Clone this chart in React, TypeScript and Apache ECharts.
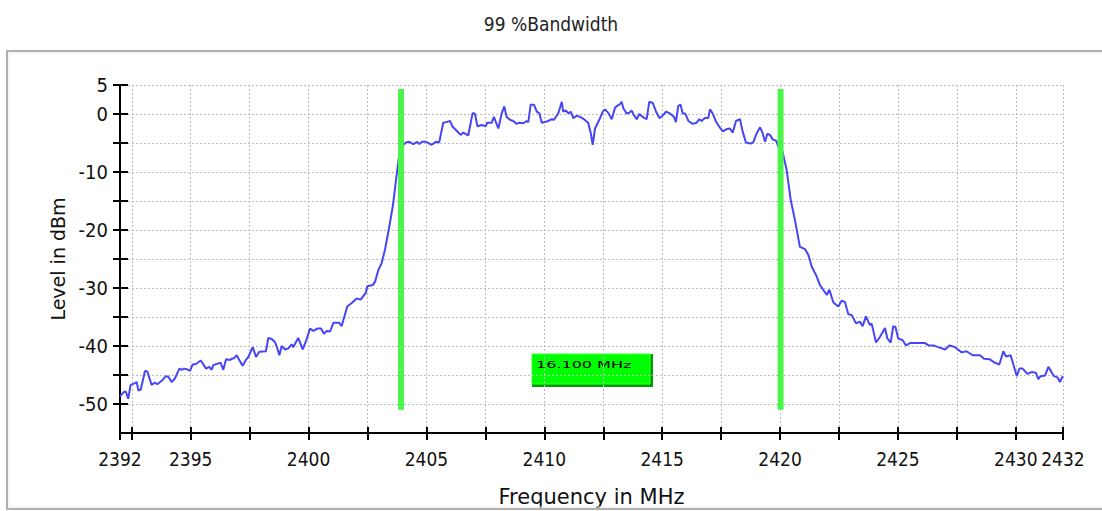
import React, { useEffect, useRef } from "react";
import * as echarts from "echarts";

const titleText = "99 %Bandwidth";
const xName = "Frequency in MHz";
const yName = "Level in dBm";
const bandwidthLabel = "16.100 MHz";

const xMin = 2392;
const xMax = 2432;
const yMin = -55;
const yMax = 5;
const xTicks = [2392, 2392.5, 2395, 2397.5, 2400, 2402.5, 2405, 2407.5, 2410, 2412.5, 2415, 2417.5, 2420, 2422.5, 2425, 2427.5, 2430, 2432];
const xLabels = [2392, 2395, 2400, 2405, 2410, 2415, 2420, 2425, 2430];
const xEndLabels = [2432];
const yTicks = [-50, -45, -40, -35, -30, -25, -20, -15, -10, -5, 0, 5];
const yLabels = [-50, -40, -30, -20, -10, 0, 5];

const markerFreq = [2403.92, 2420.02];
const markerTop = 4.3;
const markerBottom = -51;

const freq = [
  2392.0, 2392.17, 2392.25, 2392.35, 2392.45, 2392.64, 2392.71, 2392.78, 2392.88, 2393.06,
  2393.16, 2393.34, 2393.48, 2393.58, 2393.77, 2393.95, 2394.05, 2394.19, 2394.33, 2394.52,
  2394.62, 2394.71, 2394.83, 2394.97, 2395.08, 2395.22, 2395.42, 2395.51, 2395.65, 2395.79,
  2395.89, 2395.96, 2396.17, 2396.27, 2396.38, 2396.5, 2396.67, 2396.74, 2396.84, 2396.95,
  2397.06, 2397.2, 2397.34, 2397.44, 2397.63, 2397.77, 2397.91, 2398.19, 2398.29, 2398.43,
  2398.57, 2398.65, 2398.76, 2398.86, 2399.0, 2399.14, 2399.28, 2399.35, 2399.56, 2399.75,
  2399.92, 2400.06, 2400.2, 2400.37, 2400.53, 2400.65, 2400.77, 2400.91, 2401.05, 2401.3,
  2401.4, 2401.64, 2401.83, 2402.04, 2402.21, 2402.43, 2402.49, 2402.72, 2402.82, 2402.96,
  2403.1, 2403.24, 2403.41, 2403.58, 2403.71, 2403.83, 2404.02, 2404.13, 2404.27, 2404.44,
  2404.61, 2404.7, 2404.8, 2404.98, 2405.22, 2405.4, 2405.54, 2405.71, 2405.83, 2406.0,
  2406.11, 2406.28, 2406.45, 2406.56, 2406.77, 2406.96, 2407.06, 2407.16, 2407.34, 2407.52,
  2407.58, 2407.77, 2407.86, 2408.05, 2408.19, 2408.3, 2408.4, 2408.54, 2408.68, 2408.83,
  2408.94, 2409.11, 2409.25, 2409.32, 2409.42, 2409.56, 2409.68, 2409.79, 2409.89, 2410.1,
  2410.31, 2410.41, 2410.59, 2410.74, 2410.8, 2410.92, 2411.02, 2411.12, 2411.23, 2411.37,
  2411.51, 2411.68, 2411.86, 2411.97, 2412.05, 2412.15, 2412.33, 2412.48, 2412.57, 2412.71,
  2412.86, 2413.0, 2413.09, 2413.18, 2413.28, 2413.35, 2413.49, 2413.6, 2413.7, 2413.8,
  2413.92, 2414.03, 2414.2, 2414.34, 2414.45, 2414.6, 2414.74, 2414.88, 2415.02, 2415.16,
  2415.33, 2415.5, 2415.58, 2415.68, 2415.78, 2415.87, 2415.97, 2416.11, 2416.29, 2416.46,
  2416.57, 2416.67, 2416.81, 2416.95, 2417.03, 2417.14, 2417.28, 2417.42, 2417.57, 2417.73,
  2417.87, 2417.99, 2418.13, 2418.3, 2418.41, 2418.55, 2418.75, 2418.86, 2419.01, 2419.15,
  2419.26, 2419.36, 2419.46, 2419.57, 2419.69, 2419.83, 2419.92, 2420.07, 2420.28, 2420.45,
  2420.63, 2420.84, 2421.06, 2421.2, 2421.34, 2421.55, 2421.69, 2421.83, 2421.98, 2422.09,
  2422.26, 2422.47, 2422.61, 2422.75, 2422.89, 2423.04, 2423.22, 2423.39, 2423.5, 2423.64,
  2423.81, 2423.88, 2424.07, 2424.24, 2424.45, 2424.55, 2424.69, 2424.8, 2424.89, 2425.01,
  2425.2, 2425.34, 2425.51, 2426.15, 2426.29, 2426.5, 2426.71, 2427.0, 2427.18, 2427.42,
  2427.7, 2427.91, 2428.17, 2428.48, 2428.65, 2428.9, 2429.07, 2429.3, 2429.47, 2429.58,
  2429.78, 2430.04, 2430.15, 2430.29, 2430.49, 2430.67, 2430.85, 2430.95, 2431.05, 2431.24,
  2431.38, 2431.62, 2431.76, 2431.87, 2431.99,
];

const level = [
  -48.7, -47.9, -47.9, -49.1, -46.7, -46.4, -46.2, -47.7, -47.5, -44.3,
  -44.4, -46.7, -46.3, -46.6, -46.0, -45.2, -45.3, -46.2, -45.6, -43.9,
  -44.1, -43.9, -44.0, -44.3, -43.2, -43.1, -42.5, -43.0, -43.9, -43.6,
  -44.1, -43.3, -43.0, -42.9, -44.1, -42.3, -42.4, -42.2, -42.1, -41.6,
  -42.4, -43.4, -42.4, -41.9, -40.2, -41.9, -41.0, -40.9, -38.6, -38.8,
  -39.3, -40.1, -41.6, -40.0, -40.6, -40.4, -39.7, -40.2, -38.6, -40.6,
  -38.8, -37.0, -37.4, -37.0, -37.0, -37.9, -37.4, -37.5, -36.0, -36.0,
  -36.6, -33.2, -32.6, -31.8, -32.0, -30.8, -29.7, -29.5, -28.9, -26.9,
  -25.7, -23.4, -19.7, -15.7, -11.3, -7.5, -5.3, -4.9, -4.8, -5.2,
  -4.8, -5.2, -4.8, -4.8, -5.3, -4.8, -4.9, -1.5, -1.4, -1.2,
  -2.2, -2.9, -3.6, -3.2, -3.7, 0.2, 0.0, -2.1, -1.9, -2.1,
  -1.5, -1.5, -0.5, -2.5, 0.1, 1.3, -0.5, -1.0, -1.2, -1.7,
  -1.5, -1.6, -1.2, -1.4, 1.6, 1.6, 0.4, 0.1, -1.5, -1.3,
  -0.9, -1.0, 0.1, 2.1, 0.4, 0.6, 0.1, 0.4, -0.7, -0.3,
  -0.5, -0.9, -1.5, -3.3, -5.3, -2.5, -1.0, 0.4, 0.8, 0.2,
  -0.9, 1.1, 1.4, 1.6, 2.1, 1.0, 0.1, 0.2, 0.6, -0.2,
  -0.9, 0.0, -0.6, -0.9, 2.1, 1.9, 0.4, -0.7, -0.3, 0.4,
  0.1, -0.5, -1.4, 1.4, 1.6, 0.1, 0.1, -1.2, -1.7, -1.5,
  -0.9, -1.2, -0.7, -0.7, 0.8, 0.1, -1.3, -2.2, -3.0, -2.6,
  -2.5, -3.2, -1.2, -0.9, -3.0, -4.9, -5.1, -4.9, -3.3, -2.3,
  -3.3, -4.8, -3.4, -3.6, -4.4, -4.6, -5.6, -5.9, -9.7, -14.8,
  -18.3, -22.9, -23.3, -24.3, -26.3, -28.0, -29.5, -30.3, -31.2, -30.3,
  -32.5, -33.2, -32.2, -32.4, -34.5, -34.7, -36.1, -35.8, -36.6, -34.9,
  -36.4, -36.1, -39.4, -38.4, -36.9, -38.7, -39.4, -36.6, -36.7, -38.7,
  -39.0, -39.9, -39.5, -39.5, -39.9, -39.9, -40.2, -40.6, -39.9, -40.2,
  -41.1, -40.9, -41.6, -41.6, -42.2, -42.3, -42.8, -43.2, -40.9, -41.8,
  -41.6, -45.2, -43.9, -43.9, -44.8, -44.5, -44.6, -45.7, -45.2, -45.1,
  -43.6, -45.2, -45.4, -46.2, -45.2,
];

const narrowFont = "'Liberation Sans Narrow', 'DejaVu Sans Condensed', 'Liberation Sans', sans-serif";
const nameFont = "'DejaVu Sans', 'Liberation Sans', sans-serif";

export default function App() {
  const ref = useRef<HTMLDivElement>(null);

  useEffect(() => {
    if (!ref.current) return;
    const chart = echarts.init(ref.current, null, { renderer: "svg" });
    const tickStyle = { color: "#000", width: 2 };
    const grid = "#bdbdbd";
    const xLabelStyle = {
      showMinLabel: true,
      showMaxLabel: true,
      hideOverlap: false,
      margin: 16,
      fontFamily: narrowFont,
      fontSize: 19,
      color: "#111",
      formatter: (v: number) => String(v),
    };

    const markerSeries = markerFreq.map((f) => ({
      type: "line",
      xAxisIndex: 0,
      yAxisIndex: 0,
      data: [
        [f, markerTop],
        [f, markerBottom],
      ],
      symbol: "none",
      silent: true,
      z: 5,
      lineStyle: { color: "#4cf54c", width: 6, cap: "butt" },
    }));

    chart.setOption({
      animation: false,
      backgroundColor: "#ffffff",
      title: {
        text: titleText,
        left: "center",
        top: 9,
        textStyle: { fontFamily: narrowFont, fontSize: 19, fontWeight: "normal", color: "#222" },
      },
      grid: { left: 120, right: 39, top: 85, bottom: 78, containLabel: false, outerBoundsMode: "none" },
      xAxis: [
        {
          type: "value",
          min: xMin,
          max: xMax,
          position: "bottom",
          axisLine: { show: true, onZero: false, lineStyle: { color: "#000", width: 2 } },
          axisTick: { show: true, customValues: xTicks, length: 7, lineStyle: tickStyle },
          axisLabel: { ...xLabelStyle, customValues: xLabels },
          splitLine: { show: true, lineStyle: { color: grid, type: [2, 2], width: 1 } },
          name: xName,
          nameLocation: "middle",
          nameGap: 53,
          nameTextStyle: { fontFamily: nameFont, fontSize: 21, color: "#111" },
        },
        {
          type: "value",
          min: xMin,
          max: xMax,
          position: "bottom",
          axisLine: { show: false, onZero: false },
          axisTick: { show: true, inside: true, customValues: xTicks, length: 6, lineStyle: tickStyle },
          axisLabel: { ...xLabelStyle, customValues: xEndLabels },
          splitLine: { show: false },
        },
      ],
      yAxis: [
        {
          type: "value",
          min: yMin,
          max: yMax,
          position: "left",
          axisLine: { show: true, onZero: false, lineStyle: { color: "#000", width: 2 } },
          axisTick: { show: true, customValues: yTicks, length: 7, lineStyle: tickStyle },
          axisLabel: {
            customValues: yLabels,
            showMinLabel: true,
            showMaxLabel: true,
            hideOverlap: false,
            margin: 12,
            fontFamily: narrowFont,
            fontSize: 20,
            color: "#111",
            formatter: (v: number) => String(v),
          },
          splitLine: { show: true, lineStyle: { color: grid, type: [2, 2], width: 1 } },
          name: yName,
          nameLocation: "middle",
          nameRotate: 90,
          nameGap: 52,
          nameTextStyle: { fontFamily: nameFont, fontSize: 19, color: "#111" },
        },
        {
          type: "value",
          min: yMin,
          max: yMax,
          position: "left",
          axisLine: { show: false, onZero: false },
          axisTick: { show: true, inside: true, customValues: yTicks, length: 8, lineStyle: tickStyle },
          axisLabel: { show: false },
          splitLine: { show: false },
        },
      ],
      series: [
        {
          type: "line",
          xAxisIndex: 0,
          yAxisIndex: 0,
          data: freq.map((f, i) => [f, level[i]]),
          symbol: "none",
          silent: true,
          z: 3,
          lineStyle: { color: "#4646f5", width: 2 },
        },
        ...markerSeries,
      ],
      graphic: [
        {
          type: "rect",
          z: 100,
          silent: true,
          shape: { x: 7, y: 51, width: 1110, height: 458 },
          style: { fill: "none", stroke: "#b0b0b0", lineWidth: 2 },
        },
        {
          type: "rect",
          z: 100,
          silent: true,
          shape: { x: 9, y: 53, width: 1106, height: 454 },
          style: { fill: "none", stroke: "#ececec", lineWidth: 1 },
        },
        {
          type: "group",
          z: 50,
          children: [
            {
              type: "rect",
              shape: { x: 532, y: 354, width: 121, height: 33 },
              style: { fill: "#00a000" },
            },
            {
              type: "rect",
              shape: { x: 532, y: 354, width: 118, height: 30 },
              style: { fill: "#00ff00", stroke: "#33ff33", lineWidth: 1 },
            },
            {
              type: "text",
              x: 536,
              y: 365,
              scaleX: 1.78,
              style: {
                text: bandwidthLabel,
                fontFamily: "'DejaVu Sans', sans-serif",
                fontSize: 9,
                fill: "#000",
                verticalAlign: "middle",
                align: "left",
              },
            },
          ],
        },
      ],
    });

    return () => chart.dispose();
  }, []);

  return (
    <div
      ref={ref}
      style={{ position: "fixed", left: 0, top: 0, width: 1102, height: 511, background: "#fff" }}
    />
  );
}
